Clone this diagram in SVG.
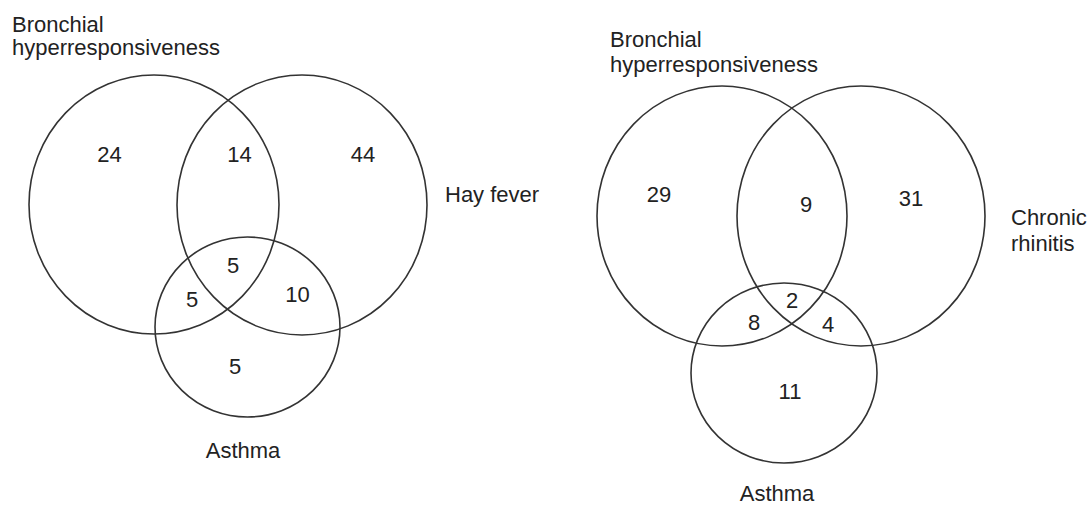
<svg xmlns="http://www.w3.org/2000/svg" width="1087" height="506" viewBox="0 0 1087 506">
<style>
.c{fill:none;stroke:#333;stroke-width:1.6}
.t{font-family:"Liberation Sans",Arial,sans-serif;font-size:22px;fill:#222}
.m{text-anchor:middle}
</style>
<rect width="1087" height="506" fill="#fff"/>
<g id="left">
<g id="bhr1"><ellipse class="c" cx="154" cy="204.5" rx="125" ry="129.5"/>
<text class="t" x="12" y="32">Bronchial</text><text class="t" x="12" y="55">hyperresponsiveness</text></g>
<g id="hay"><ellipse class="c" cx="302" cy="205" rx="125" ry="130"/>
<text class="t" x="445" y="202">Hay fever</text></g>
<g id="asthma1"><ellipse class="c" cx="247.5" cy="327" rx="92.5" ry="90"/>
<text class="t m" x="243" y="458">Asthma</text></g>
<g id="counts1">
<text class="t m" x="109.5" y="162">24</text>
<text class="t m" x="239.5" y="162">14</text>
<text class="t m" x="363" y="162">44</text>
<text class="t m" x="233" y="273">5</text>
<text class="t m" x="192" y="307">5</text>
<text class="t m" x="297.5" y="302">10</text>
<text class="t m" x="235" y="374">5</text>
</g>
</g>
<g id="right">
<g id="bhr2"><ellipse class="c" cx="722" cy="216" rx="125" ry="130"/>
<text class="t" x="610" y="47">Bronchial</text><text class="t" x="610" y="72">hyperresponsiveness</text></g>
<g id="rhin"><ellipse class="c" cx="861" cy="216" rx="124" ry="130"/>
<text class="t" x="1011" y="225">Chronic</text><text class="t" x="1011" y="251">rhinitis</text></g>
<g id="asthma2"><ellipse class="c" cx="784" cy="373" rx="93" ry="90"/>
<text class="t m" x="777" y="501">Asthma</text></g>
<g id="counts2">
<text class="t m" x="659" y="202">29</text>
<text class="t m" x="806" y="212">9</text>
<text class="t m" x="911" y="206">31</text>
<text class="t m" x="792" y="308">2</text>
<text class="t m" x="754" y="330">8</text>
<text class="t m" x="828" y="332">4</text>
<text class="t m" x="790" y="399">11</text>
</g>
</g>
<g id="connectors"/>
</svg>
